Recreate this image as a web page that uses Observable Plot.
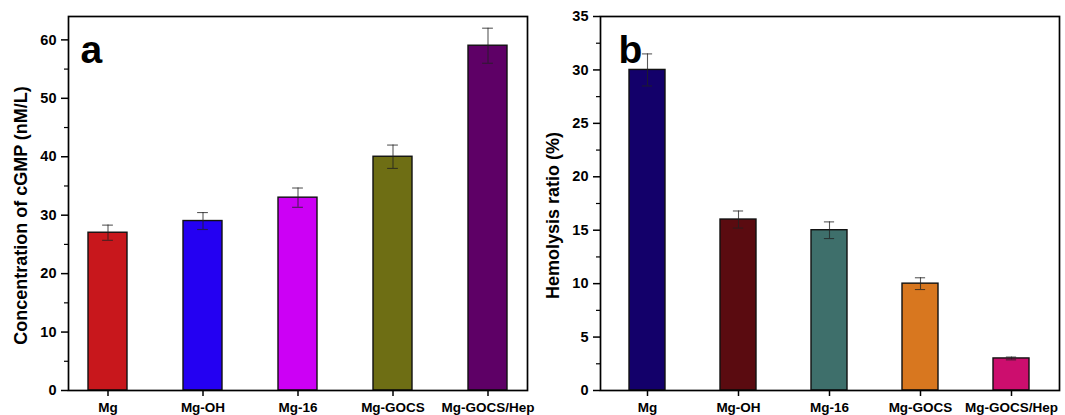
<!DOCTYPE html>
<html>
<head>
<meta charset="utf-8">
<script src="https://cdn.jsdelivr.net/npm/d3@7"></script>
<script src="https://cdn.jsdelivr.net/npm/@observablehq/plot@0.6"></script>
<style>
  html, body { margin: 0; padding: 0; background: #fff; }
  #wrap { position: relative; width: 1065px; height: 415px; }
  #pa { position: absolute; left: 0; top: 0; }
  #pb { position: absolute; left: 535px; top: 0; }
  svg { font-family: "Liberation Sans", Arial, sans-serif; font-weight: bold; }
</style>
</head>
<body>
<div id="wrap"><div id="pa"></div><div id="pb"></div></div>
<script>
const categories = ["Mg", "Mg-OH", "Mg-16", "Mg-GOCS", "Mg-GOCS/Hep"];

// Panel a: cGMP concentration
const cgmpValues = [27, 29, 33, 40, 59];
const cgmpErrors = [1.3, 1.45, 1.65, 2.0, 3.0];
const cgmpColors = ["#C8171C", "#2400F2", "#CC00F5", "#6E6E14", "#5E0066"];
const cgmpTicks = [0, 10, 20, 30, 40, 50, 60];
const cgmpMinor = [5, 15, 25, 35, 45, 55];

// Panel b: hemolysis ratio
const hemoValues = [30, 16, 15, 10, 3];
const hemoErrors = [1.5, 0.8, 0.78, 0.55, 0.13];
const hemoColors = ["#13006A", "#5A0B10", "#3E6F6B", "#D8771F", "#CC0E6E"];
const hemoTicks = [0, 5, 10, 15, 20, 25, 30, 35];
const hemoMinor = [2.5, 7.5, 12.5, 17.5, 22.5, 27.5, 32.5];

function rows(vals, errs) {
  return categories.map((c, i) => ({cat: c, v: vals[i], lo: vals[i] - errs[i], hi: vals[i] + errs[i]}));
}

function panel({data, colors, yMax, ticks, minor, title, letter, width, mLeft, mRight, pIn, pOut, letterDx, titleDx}) {
  const bw = (width - mLeft - mRight) / (categories.length - pIn + 2 * pOut) * (1 - pIn);
  const capInset = Math.max(0, (bw - 11) / 2);
  return Plot.plot({
    width, height: 415,
    marginLeft: mLeft, marginRight: mRight, marginTop: 16, marginBottom: 25,
    style: {fontFamily: "'Liberation Sans', Arial, sans-serif", fontWeight: "bold", fontSize: "14px", color: "#000"},
    x: {domain: categories, paddingInner: pIn, paddingOuter: pOut, label: null},
    y: {domain: [0, yMax], label: null},
    color: {domain: categories, range: colors},
    marks: [
      Plot.barY(data, {x: "cat", y: "v", fill: "cat", stroke: "#111", strokeWidth: 1.4}),
      Plot.ruleX(data, {x: "cat", y1: "lo", y2: "hi", stroke: "#222", strokeWidth: 1.1, strokeOpacity: 0.75}),
      Plot.tickY(data, {x: "cat", y: "lo", stroke: "#222", strokeWidth: 1.1, strokeOpacity: 0.75, insetLeft: capInset, insetRight: capInset}),
      Plot.tickY(data, {x: "cat", y: "hi", stroke: "#222", strokeWidth: 1.1, strokeOpacity: 0.75, insetLeft: capInset, insetRight: capInset}),
      Plot.axisY({ticks: ticks, tickSize: 7, tickPadding: 5, tickFormat: d3.format("d"), fontSize: 14.5, fontWeight: "bold", label: null, strokeWidth: 1.5}),
      Plot.axisY({ticks: minor, tickSize: 4, tickFormat: () => "", label: null, strokeWidth: 1.2}),
      Plot.axisX({tickSize: 6, tickPadding: 6, fontSize: 13.5, fontWeight: "bold", label: null, strokeWidth: 1.5}),
      Plot.frame({stroke: "#000", strokeWidth: 1.7}),
      Plot.text([title], {frameAnchor: "left", text: d => d, textAnchor: "middle", rotate: -90, dx: titleDx, dy: 12, fontSize: 18, fontWeight: "bold", fill: "#000"}),
      Plot.text([letter], {frameAnchor: "top-left", text: d => d, textAnchor: "start", lineAnchor: "bottom", dx: letterDx, dy: 46, fontSize: 39, fontWeight: "bold", fill: "#000"})
    ]
  });
}

document.getElementById("pa").appendChild(panel({
  data: rows(cgmpValues, cgmpErrors), colors: cgmpColors, yMax: 64,
  ticks: cgmpTicks, minor: cgmpMinor, title: "Concentration of cGMP (nM/L)", letter: "a",
  width: 535, mLeft: 68, mRight: 8, pIn: 0.59, pOut: 0.195, letterDx: 12, titleDx: -47
}));

document.getElementById("pb").appendChild(panel({
  data: rows(hemoValues, hemoErrors), colors: hemoColors, yMax: 35,
  ticks: hemoTicks, minor: hemoMinor, title: "Hemolysis ratio (%)", letter: "b",
  width: 530, mLeft: 65, mRight: 6, pIn: 0.60, pOut: 0.295, letterDx: 18, titleDx: -47
}));
</script>
</body>
</html>
